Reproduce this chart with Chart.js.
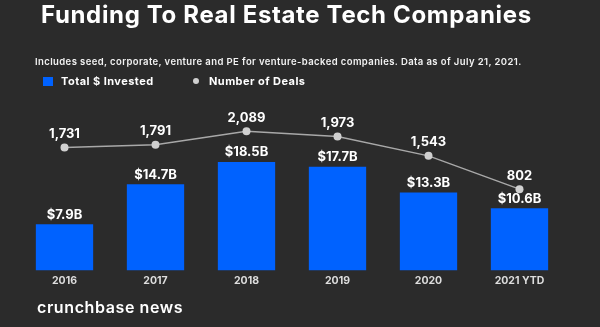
<!DOCTYPE html>
<html>
<head>
<meta charset="utf-8">
<script src="https://cdn.jsdelivr.net/npm/chart.js@4/dist/chart.umd.min.js"></script>
<style>
    html, body { margin: 0; padding: 0; background: #2b2b2b; }
    #wrap { position: relative; width: 600px; height: 327px; overflow: hidden; background: #2b2b2b; font-family: Inter, 'Noto Sans', sans-serif; color: #fff; }
    #chart { position: absolute; left: 0; top: 0; }
    .title { position: absolute; left: 41px; top: 0px; font-size: 24px; font-weight: 700; line-height: 30px; white-space: nowrap; letter-spacing: 0.65px; }
    .subtitle { position: absolute; left: 35px; top: 55px; font-size: 9.5px; font-weight: 600; line-height: 13px; white-space: nowrap; letter-spacing: 0.4px; color: #f2f2f2; }
    .legend { position: absolute; top: 74px; left: 43px; font-size: 11px; font-weight: 700; line-height: 14px; white-space: nowrap; letter-spacing: 0.45px; }
    .legend span { position: absolute; top: 0; }
    .swatch { position: absolute; left: 0; top: 3px; width: 10px; height: 9px; background: #0062ff; }
    .dot { position: absolute; left: 150px; top: 4px; width: 6px; height: 6px; border-radius: 50%; background: #d0d0d0; }
    .footer { position: absolute; left: 37px; top: 297px; font-size: 16px; font-weight: 600; line-height: 20px; white-space: nowrap; letter-spacing: 0.6px; }
</style>
</head>
<body>
<div id="wrap">
    <canvas id="chart" width="600" height="327"></canvas>
    <div class="title">Funding To Real Estate Tech Companies</div>
    <div class="subtitle">Includes seed, corporate, venture and PE for venture-backed companies. Data as of July 21, 2021.</div>
    <div class="legend">
        <div class="swatch"></div><span style="left:18px">Total $ Invested</span>
        <div class="dot"></div><span style="left:166px">Number of Deals</span>
    </div>
    <div class="footer">crunchbase news</div>
</div>
<script>
// years on the x axis
const years = ['2016', '2017', '2018', '2019', '2020', '2021 YTD'];
// total $ invested, billions
const invested = [7.9, 14.7, 18.5, 17.7, 13.3, 10.6];
// number of deals
const deals = [1731, 1791, 2089, 1973, 1543, 802];

// value labels above bars and points
const valueLabels = {
    id: 'valueLabels',
    afterDatasetsDraw(chart) {
        const ctx = chart.ctx;
        ctx.save();
        ctx.fillStyle = '#ffffff';
        ctx.textAlign = 'center';
        ctx.textBaseline = 'bottom';
        ctx.font = '700 13px Inter, sans-serif';
        // dataset 0 = line, dataset 1 = bars
        chart.getDatasetMeta(1).data.forEach((bar, i) => {
            ctx.fillText('$' + invested[i].toFixed(1) + 'B', bar.x, bar.y - 3);
        });
        chart.getDatasetMeta(0).data.forEach((pt, i) => {
            ctx.fillText(deals[i].toLocaleString('en-US'), pt.x, pt.y - 7);
        });
        ctx.restore();
    }
};

new Chart(document.getElementById('chart'), {
    data: {
        labels: years,
        datasets: [
            {
                type: 'line',
                label: 'Number of Deals',
                data: deals,
                yAxisID: 'y1',
                borderColor: '#a8a8a8',
                borderWidth: 1.5,
                pointRadius: 4,
                pointBackgroundColor: '#d0d0d0',
                pointBorderColor: '#d0d0d0',
                pointBorderWidth: 0,
                tension: 0,
                order: 0
            },
            {
                type: 'bar',
                label: 'Total $ Invested',
                data: invested,
                yAxisID: 'y',
                backgroundColor: '#0062ff',
                categoryPercentage: 1,
                barPercentage: 0.63,
                order: 1
            }
        ]
    },
    options: {
        responsive: false,
        animation: false,
        layout: { padding: { top: 100, left: 19, right: 35, bottom: 36 } },
        plugins: {
            legend: { display: false },
            tooltip: { enabled: false }
        },
        scales: {
            x: {
                grid: { display: false, drawTicks: false },
                border: { display: false },
                ticks: { color: '#dddddd', font: { family: 'Inter', size: 10.5, weight: '700' }, padding: 4 }
            },
            y: { display: false, min: 0, max: 29.1 },
            y1: { display: false, min: -1008, max: 2787 }
        }
    },
    plugins: [valueLabels]
});
</script>
</body>
</html>
